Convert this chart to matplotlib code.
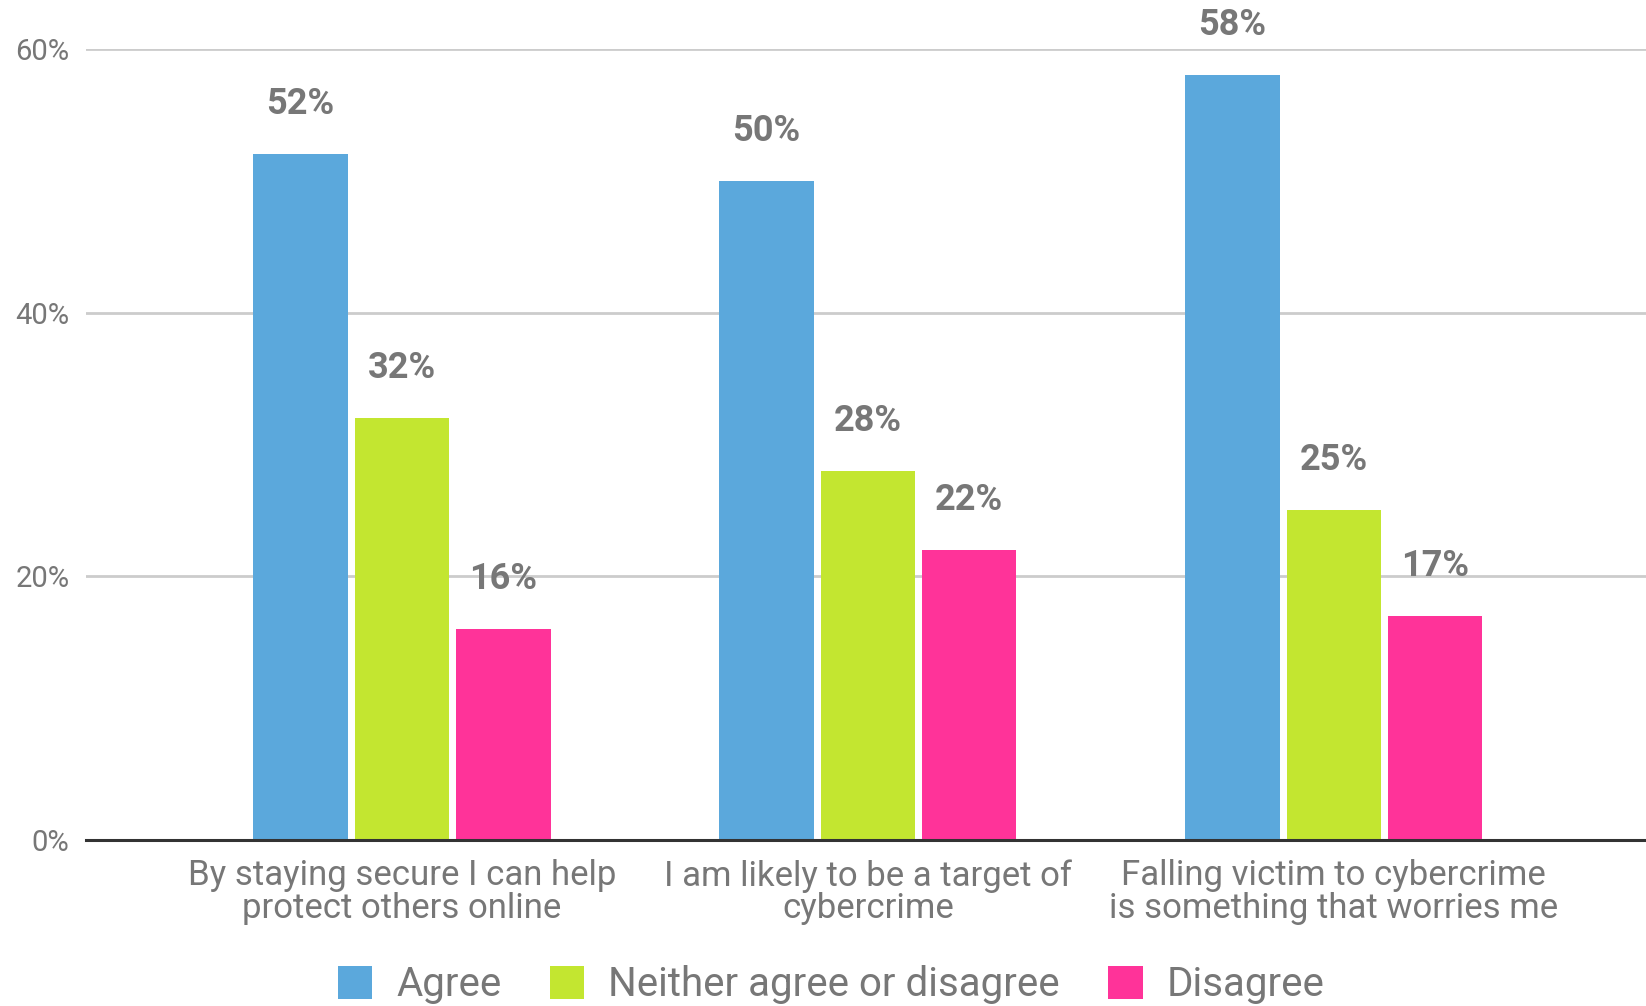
import numpy as np
import matplotlib.pyplot as plt
from matplotlib.patches import Patch

plt.rcParams['font.family'] = ['Roboto', 'DejaVu Sans']

statements = ["By staying secure I can help\nprotect others online",
              "I am likely to be a target of\ncybercrime",
              "Falling victim to cybercrime\nis something that worries me"]
series = ["Agree", "Neither agree or disagree", "Disagree"]
agree = [52, 50, 58]
neither = [32, 28, 25]
disagree = [16, 22, 17]
yticks = [0, 20, 40, 60]

colors = ["#5ba8dc", "#c3e630", "#ff3399"]
grey = "#777777"

fig = plt.figure(figsize=(16.46, 10.06), dpi=100)
ax = fig.add_axes([86 / 1646, 1 - 840 / 1006, 1560 / 1646, (840 - 49) / 1006])

x = np.arange(len(statements))
width = 0.203
step = 0.2174
for i, (vals, col) in enumerate(zip([agree, neither, disagree], colors)):
    pos = x + (i - 1) * step
    ax.bar(pos, vals, width, color=col, zorder=3)
    for p, v in zip(pos, vals):
        ax.annotate(f"{v}%", (p, v), xytext=(0, 36), textcoords="offset points",
                    ha="center", va="center", fontsize=26, fontweight="bold",
                    color=grey, annotation_clip=False, zorder=4)

ax.set_xlim(-0.678, 2.67)
ax.set_ylim(0, 60)
ax.set_yticks(yticks)
ax.set_yticklabels([f"{t}%" for t in yticks])
ax.yaxis.grid(True, color="#cccccc", linewidth=2, zorder=0)
ax.set_xticks(x)
ax.set_xticklabels(statements, linespacing=0.97)
ax.tick_params(axis="x", length=0, pad=14, labelsize=25, labelcolor=grey)
ax.tick_params(axis="y", length=0, pad=12, labelsize=21, labelcolor=grey)
for s in ["top", "right", "left"]:
    ax.spines[s].set_visible(False)
ax.spines["bottom"].set_color("#333333")
ax.spines["bottom"].set_linewidth(2.2)
ax.spines["bottom"].set_zorder(5)

handles = [Patch(facecolor=c, edgecolor="none") for c in colors]
fig.legend(handles, series, loc="center", bbox_to_anchor=(0.505, 1 - 985 / 1006),
           ncol=3, frameon=False, fontsize=29, labelcolor=grey,
           handlelength=0.85, handleheight=0.85, handletextpad=0.6, columnspacing=1.2)

fig.savefig("out.png", dpi=100)
